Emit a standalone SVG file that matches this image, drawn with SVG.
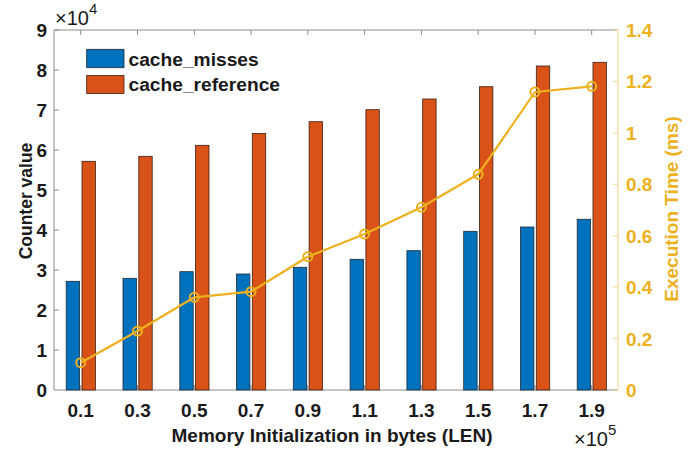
<svg xmlns="http://www.w3.org/2000/svg" width="694" height="451" viewBox="0 0 694 451">
<style>
text{font-family:"Liberation Sans",Arial,Helvetica,sans-serif;fill:#1a1a1a}
.tk{font-size:19px;font-weight:bold}
.lb{font-size:19px;font-weight:bold}
.lg{font-size:19.2px;font-weight:bold}
.yr{fill:#EDB120}
.ax{stroke:#8c8c8c;stroke-width:1;fill:none}
.axr{stroke:#f5d58a;stroke-width:1;fill:none}
.b{fill:#0072BD;stroke:#1e2a36;stroke-width:0.8}
.o{fill:#D95319;stroke:#3a1f14;stroke-width:0.8}
.ln{fill:none;stroke:#EDB120;stroke-width:2.2;stroke-linejoin:round}
.mk{fill:none;stroke:#EDB120;stroke-width:2}
.ex{font-size:20px;font-weight:normal}
.sup{font-size:15px;font-weight:normal}
</style>
<rect width="694" height="451" fill="#fff"/>
<g id="axes">
<path class="ax" d="M54,30H618M54,30V390H618"/>
<path class="ax" d="M54,30h5M54,70h5M54,110h5M54,150h5M54,190h5M54,230h5M54,270h5M54,310h5M54,350h5"/>
<path class="ax" d="M80.7,30v5M137.5,30v5M194.3,30v5M251,30v5M307.8,30v5M364.6,30v5M421.4,30v5M478.2,30v5M535,30v5M591.7,30v5"/>
<path class="ax" d="M80.7,390v-5M137.5,390v-5M194.3,390v-5M251,390v-5M307.8,390v-5M364.6,390v-5M421.4,390v-5M478.2,390v-5M535,390v-5M591.7,390v-5"/>
<path class="axr" d="M618,30V390M618,30h-5M618,81.4h-5M618,132.9h-5M618,184.3h-5M618,235.7h-5M618,287.1h-5M618,338.6h-5M618,390h-5"/>
</g>
<g id="bars">
<rect class="b" x="66.2" y="281.3" width="13.4" height="108.7"/>
<rect class="b" x="123" y="278.3" width="13.4" height="111.7"/>
<rect class="b" x="179.8" y="271.7" width="13.4" height="118.3"/>
<rect class="b" x="236.5" y="274" width="13.4" height="116"/>
<rect class="b" x="293.3" y="267.3" width="13.4" height="122.7"/>
<rect class="b" x="350.1" y="259.3" width="13.4" height="130.7"/>
<rect class="b" x="406.9" y="250.7" width="13.4" height="139.3"/>
<rect class="b" x="463.7" y="231.3" width="13.4" height="158.7"/>
<rect class="b" x="520.5" y="227" width="13.4" height="163"/>
<rect class="b" x="577.2" y="219.3" width="13.4" height="170.7"/>
<rect class="o" x="82" y="161.3" width="13.4" height="228.7"/>
<rect class="o" x="138.8" y="156.3" width="13.4" height="233.7"/>
<rect class="o" x="195.6" y="145.3" width="13.4" height="244.7"/>
<rect class="o" x="252.3" y="133.5" width="13.4" height="256.5"/>
<rect class="o" x="309.1" y="121.7" width="13.4" height="268.3"/>
<rect class="o" x="365.9" y="109.7" width="13.4" height="280.3"/>
<rect class="o" x="422.7" y="99" width="13.4" height="291"/>
<rect class="o" x="479.5" y="86.7" width="13.4" height="303.3"/>
<rect class="o" x="536.3" y="66" width="13.4" height="324"/>
<rect class="o" x="593" y="62.3" width="13.4" height="327.7"/>
</g>
<g id="connectors">
<polyline class="ln" points="80.7,362.7 137.5,331 194.3,297.3 251,291.7 307.8,256.7 364.6,234 421.4,207.3 478.2,174.3 535,92 591.7,86.3"/>
<g class="mk">
<circle cx="80.7" cy="362.7" r="4.5"/><circle cx="137.5" cy="331" r="4.5"/><circle cx="194.3" cy="297.3" r="4.5"/><circle cx="251" cy="291.7" r="4.5"/><circle cx="307.8" cy="256.7" r="4.5"/><circle cx="364.6" cy="234" r="4.5"/><circle cx="421.4" cy="207.3" r="4.5"/><circle cx="478.2" cy="174.3" r="4.5"/><circle cx="535" cy="92" r="4.5"/><circle cx="591.7" cy="86.3" r="4.5"/>
</g>
</g>
<g id="ylabels-left" class="tk" text-anchor="end">
<text x="47" y="37">9</text><text x="47" y="77">8</text><text x="47" y="117">7</text><text x="47" y="157">6</text><text x="47" y="197">5</text><text x="47" y="237">4</text><text x="47" y="277">3</text><text x="47" y="317">2</text><text x="47" y="357">1</text><text x="47" y="397">0</text>
</g>
<g id="ylabels-right" class="tk" text-anchor="start">
<text class="yr" x="626" y="37">1.4</text><text class="yr" x="626" y="88.4">1.2</text><text class="yr" x="626" y="139.9">1</text><text class="yr" x="626" y="191.3">0.8</text><text class="yr" x="626" y="242.7">0.6</text><text class="yr" x="626" y="294.1">0.4</text><text class="yr" x="626" y="345.6">0.2</text><text class="yr" x="626" y="397">0</text>
</g>
<g id="xlabels" class="tk" text-anchor="middle">
<text x="80.7" y="417">0.1</text><text x="137.5" y="417">0.3</text><text x="194.3" y="417">0.5</text><text x="251" y="417">0.7</text><text x="307.8" y="417">0.9</text><text x="364.6" y="417">1.1</text><text x="421.4" y="417">1.3</text><text x="478.2" y="417">1.5</text><text x="535" y="417">1.7</text><text x="591.7" y="417">1.9</text>
</g>
<g id="multipliers">
<text x="55" y="25"><tspan class="ex">×10</tspan><tspan class="sup" dy="-11">4</tspan></text>
<text x="574" y="446"><tspan class="ex">×10</tspan><tspan class="sup" dy="-11">5</tspan></text>
</g>
<g id="titles">
<text class="lb" x="332" y="442" text-anchor="middle">Memory Initialization in bytes (LEN)</text>
<text class="lb" x="0" y="0" text-anchor="middle" transform="translate(32,201) rotate(-90)" style="font-size:17.5px">Counter value</text>
<text class="lb yr" x="0" y="0" text-anchor="middle" transform="translate(678,209) rotate(-90)">Execution Time (ms)</text>
</g>
<g id="legend">
<rect class="b" x="86.7" y="49.3" width="37.3" height="18.4"/>
<rect class="o" x="86.7" y="75.5" width="37.3" height="18"/>
<text class="lg" x="128.5" y="65.5">cache_misses</text>
<text class="lg" x="128.5" y="91">cache_reference</text>
</g>
</svg>
